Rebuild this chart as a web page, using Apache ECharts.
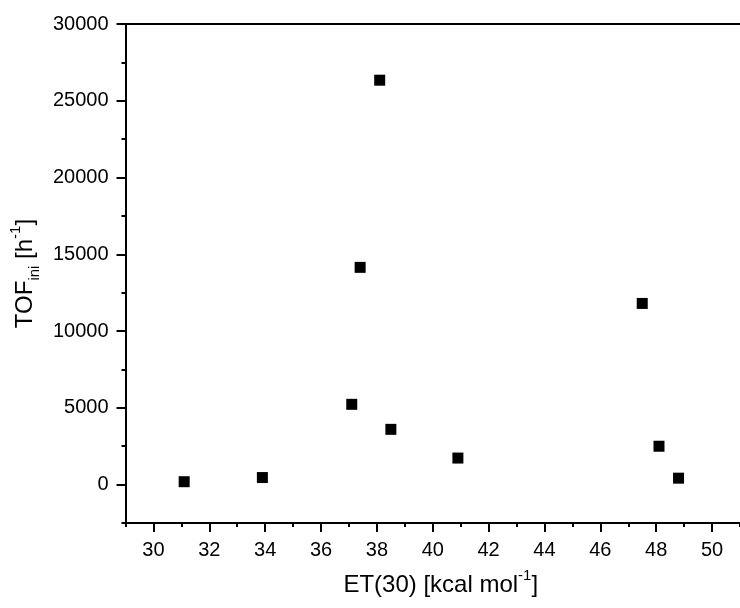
<!DOCTYPE html>
<html>
<head>
<meta charset="utf-8">
<script src="https://cdn.jsdelivr.net/npm/echarts@6/dist/echarts.min.js"></script>
<style>
  html, body { margin: 0; padding: 0; background: #fff; }
  #chart { width: 740px; height: 608px; }
</style>
</head>
<body>
<div id="chart"></div>
<script>
// Data
const etValues  = [31.1, 33.9, 37.1, 37.4, 38.1, 38.5, 40.9, 47.5, 48.1, 48.8];
const tofValues = [190, 460, 5230, 14150, 26340, 3600, 1730, 11800, 2500, 420];

// Axis ticks
const xMajorTicks = [30, 32, 34, 36, 38, 40, 42, 44, 46, 48, 50];
const xMinorTicks = [29, 31, 33, 35, 37, 39, 41, 43, 45, 47, 49, 51];
const yMajorTicks = [0, 5000, 10000, 15000, 20000, 25000, 30000];
const yMinorTicks = [-2500, 2500, 7500, 12500, 17500, 22500, 27500];
const xRange = [29, 51];
const yRange = [-2500, 30000];

const FONT = 'Liberation Sans, Arial, sans-serif';
const black = '#000';

const points = etValues.map((x, i) => [x, tofValues[i]]);

const richStyles = {
  n: { fontFamily: FONT, fontSize: 24, color: black, lineHeight: 34 },
  s: { fontFamily: FONT, fontSize: 15, color: black, lineHeight: 18, verticalAlign: 'top' },
  b: { fontFamily: FONT, fontSize: 15, color: black, lineHeight: 18, verticalAlign: 'bottom' }
};

const plain = v => String(v);

const chart = echarts.init(document.getElementById('chart'), null, { renderer: 'canvas' });
chart.setOption({
  animation: false,
  backgroundColor: '#fff',
  grid: { left: 125, right: 0, top: 24, bottom: 85, containLabel: false },
  xAxis: [
    {
      type: 'value', position: 'bottom', min: xRange[0], max: xRange[1],
      name: '{n|ET(30) [kcal mol}{s|-1}{n|]}',
      nameLocation: 'middle', nameGap: 45,
      nameTextStyle: { fontFamily: FONT, fontSize: 24, color: black, rich: richStyles, padding: [0, 0, 0, 16] },
      axisLine: { show: true, onZero: false, lineStyle: { color: black, width: 2 } },
      axisTick: { show: true, inside: false, length: 9, lineStyle: { color: black, width: 2 }, customValues: xMajorTicks },
      axisLabel: { show: true, margin: 17, fontFamily: FONT, fontSize: 20, color: black, customValues: xMajorTicks, formatter: plain },
      splitLine: { show: false }
    },
    {
      type: 'value', position: 'bottom', min: xRange[0], max: xRange[1],
      axisLine: { show: false, onZero: false },
      axisTick: { show: true, inside: false, length: 4, lineStyle: { color: black, width: 2 }, customValues: xMinorTicks },
      axisLabel: { show: false },
      splitLine: { show: false }
    },
    {
      type: 'value', position: 'top', min: xRange[0], max: xRange[1],
      axisLine: { show: true, onZero: false, lineStyle: { color: black, width: 2 } },
      axisTick: { show: false },
      axisLabel: { show: false },
      splitLine: { show: false }
    }
  ],
  yAxis: [
    {
      type: 'value', position: 'left', min: yRange[0], max: yRange[1],
      name: '{n|TOF}{b|ini}{n| [h}{s|-1}{n|]}',
      nameLocation: 'middle', nameGap: 82, nameRotate: 90,
      nameTextStyle: { fontFamily: FONT, fontSize: 24, color: black, rich: richStyles },
      axisLine: { show: true, onZero: false, lineStyle: { color: black, width: 2 } },
      axisTick: { show: true, inside: false, length: 9, lineStyle: { color: black, width: 2 }, customValues: yMajorTicks },
      axisLabel: { show: true, margin: 17, fontFamily: FONT, fontSize: 20, color: black, customValues: yMajorTicks, formatter: plain },
      splitLine: { show: false }
    },
    {
      type: 'value', position: 'left', min: yRange[0], max: yRange[1],
      axisLine: { show: false, onZero: false },
      axisTick: { show: true, inside: false, length: 4, lineStyle: { color: black, width: 2 }, customValues: yMinorTicks },
      axisLabel: { show: false },
      splitLine: { show: false }
    }
  ],
  series: [
    {
      type: 'scatter',
      xAxisIndex: 0, yAxisIndex: 0,
      symbol: 'rect', symbolSize: 11,
      itemStyle: { color: black, opacity: 1 },
      data: points
    }
  ]
});
</script>
</body>
</html>
